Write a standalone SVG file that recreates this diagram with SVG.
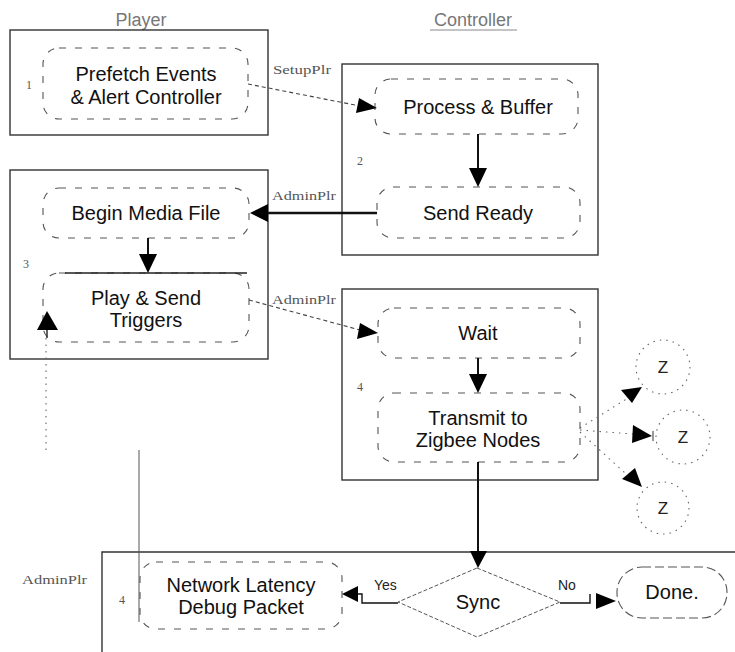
<svg xmlns="http://www.w3.org/2000/svg" width="735" height="652" viewBox="0 0 735 652">
<defs>
<style>
.box{fill:none;stroke:#333;stroke-width:1.4}
.proc{fill:none;stroke:#555;stroke-width:1.1;stroke-dasharray:7 9}
.t{font-family:"Liberation Sans",Arial,sans-serif;font-size:20px;fill:#111;text-anchor:middle}
.z{font-family:"Liberation Sans",Arial,sans-serif;font-size:17px;fill:#222;text-anchor:middle}
.hdr{font-family:"Liberation Sans",Arial,sans-serif;font-size:18px;fill:#777;text-anchor:middle}
.lbl{font-family:"Liberation Serif","Times New Roman",serif;font-size:13px;fill:#555}
.num{font-family:"Liberation Serif","Times New Roman",serif;font-size:12px;fill:#555;text-anchor:middle}
.solid{fill:none;stroke:#111;stroke-width:2}
.dash{fill:none;stroke:#444;stroke-width:1.1;stroke-dasharray:4 3}
.dot{fill:none;stroke:#666;stroke-width:1.1;stroke-dasharray:1.5 5}
.head{fill:#000}
</style>
</defs>

<g id="headers">
<text class="hdr" x="141" y="26">Player</text>
<text class="hdr" x="473" y="26">Controller</text>
<line x1="430" y1="30" x2="517" y2="30" stroke="#888" stroke-width="1"/>
</g>

<g id="player-box-1">
<rect class="box" x="10" y="30" width="258" height="105"/>
<text class="num" x="29" y="89">1</text>
</g>
<g id="prefetch">
<rect class="proc" x="43" y="48" width="205" height="71" rx="16"/>
<text class="t" x="146" y="81">Prefetch Events</text>
<text class="t" x="146" y="104">&amp; Alert Controller</text>
</g>

<g id="controller-box-1">
<rect class="box" x="342" y="64" width="256" height="191"/>
<text class="num" x="360" y="165">2</text>
</g>
<g id="process-buffer">
<rect class="proc" x="375" y="79" width="203" height="55" rx="16"/>
<text class="t" x="478" y="114">Process &amp; Buffer</text>
</g>
<g id="send-ready">
<rect class="proc" x="377" y="187" width="203" height="51" rx="16"/>
<text class="t" x="478" y="220">Send Ready</text>
</g>

<g id="player-box-2">
<rect class="box" x="10" y="170" width="258" height="189"/>
<text class="num" x="26" y="268">3</text>
</g>
<g id="begin-media">
<rect class="proc" x="43" y="188" width="206" height="50" rx="16"/>
<text class="t" x="146" y="220">Begin Media File</text>
</g>
<g id="play-send">
<rect class="proc" x="43" y="273" width="206" height="69" rx="16"/>
<line x1="65" y1="273" x2="247" y2="273" stroke="#222" stroke-width="1.4"/>
<text class="t" x="146" y="305">Play &amp; Send</text>
<text class="t" x="146" y="327">Triggers</text>
</g>

<g id="controller-box-2">
<rect class="box" x="342" y="289" width="256" height="191"/>
<text class="num" x="360" y="391">4</text>
</g>
<g id="wait">
<rect class="proc" x="378" y="308" width="202" height="50" rx="16"/>
<text class="t" x="478" y="340">Wait</text>
</g>
<g id="transmit">
<rect class="proc" x="378" y="393" width="202" height="69" rx="16"/>
<text class="t" x="478" y="425">Transmit to</text>
<text class="t" x="478" y="447">Zigbee Nodes</text>
</g>

<g id="zigbee-1">
<circle cx="663" cy="367" r="27" class="dot"/>
<text class="z" x="663" y="373">Z</text>
</g>
<g id="zigbee-2">
<circle cx="683" cy="437" r="27" class="dot"/>
<text class="z" x="683" y="443">Z</text>
</g>
<g id="zigbee-3">
<circle cx="663" cy="508" r="26" class="dot"/>
<text class="z" x="663" y="514">Z</text>
</g>

<g id="bottom-box">
<path class="box" d="M102,652 V552 H735"/>
<line x1="139" y1="450" x2="139" y2="622" stroke="#555" stroke-width="1"/>
<text class="num" x="122" y="604">4</text>
</g>
<g id="network-latency">
<rect class="proc" x="140" y="562" width="202" height="67" rx="16"/>
<text class="t" x="241" y="592">Network Latency</text>
<text class="t" x="241" y="614">Debug Packet</text>
</g>
<g id="sync">
<polygon points="477,568 560,602 477,637 398,602" fill="none" stroke="#555" stroke-width="1" stroke-dasharray="4 2"/>
<text class="t" x="478" y="609">Sync</text>
</g>
<g id="done">
<rect x="617" y="567" width="110" height="51" rx="25" fill="none" stroke="#555" stroke-width="1.1" stroke-dasharray="9 4"/>
<text class="t" x="672" y="599">Done.</text>
</g>

<g id="connectors">
<path class="dash" d="M248,84 L360,106"/>
<polygon class="head" points="377,108 356,113 359,98"/>
<text class="lbl" x="273" y="74" textLength="58" lengthAdjust="spacingAndGlyphs">SetupPlr</text>
<line class="solid" x1="478" y1="134" x2="478" y2="170"/>
<polygon class="head" points="469,168 487,168 478,187"/>
<line x1="377" y1="213" x2="266" y2="213" stroke="#111" stroke-width="2.6"/>
<polygon class="head" points="250,213 268,204 268,222"/>
<text class="lbl" x="272" y="200" textLength="64" lengthAdjust="spacingAndGlyphs">AdminPlr</text>
<line class="solid" x1="148" y1="238" x2="148" y2="256"/>
<polygon class="head" points="139,254 157,254 148,273"/>
<path class="dash" d="M249,300 L360,330"/>
<polygon class="head" points="378,333 357,339 360,323"/>
<text class="lbl" x="272" y="304" textLength="64" lengthAdjust="spacingAndGlyphs">AdminPlr</text>
<line class="solid" x1="478" y1="358" x2="478" y2="376"/>
<polygon class="head" points="469,374 487,374 478,393"/>
<line class="solid" x1="478" y1="462" x2="478" y2="552"/>
<polygon class="head" points="470,551 487,551 478,568"/>
<path class="dot" d="M580,428 L628,398"/>
<polygon class="head" points="621,390 642,387 632,403"/>
<path class="dot" d="M580,430 L633,434"/>
<polygon class="head" points="633,425 652,436 632,443"/>
<line x1="653" y1="431" x2="653" y2="441" stroke="#333" stroke-width="1"/>
<path class="dot" d="M580,432 L626,474"/>
<polygon class="head" points="622,479 635,468 642,487"/>
<path d="M398,603 H362 V594 H358" fill="none" stroke="#111" stroke-width="1.4"/>
<polygon class="head" points="342,594 358,586 358,602"/>
<text class="lbl" x="374" y="590" style="font-family:'Liberation Sans',Arial,sans-serif;font-size:14px;fill:#222">Yes</text>
<path d="M560,603 H590 V594" fill="none" stroke="#111" stroke-width="1.4"/>
<polygon class="head" points="596,593 616,601 596,609"/>
<text class="lbl" x="558" y="590" style="font-family:'Liberation Sans',Arial,sans-serif;font-size:14px;fill:#222">No</text>
<polygon class="head" points="37,330 47,311 58,330"/>
<line x1="47" y1="330" x2="47" y2="338" stroke="#222" stroke-width="1.4"/>
<path class="dot" d="M46,338 V455"/>
</g>

<g id="bottom-label">
<text class="lbl" x="22" y="584" textLength="65" lengthAdjust="spacingAndGlyphs">AdminPlr</text>
</g>
</svg>
